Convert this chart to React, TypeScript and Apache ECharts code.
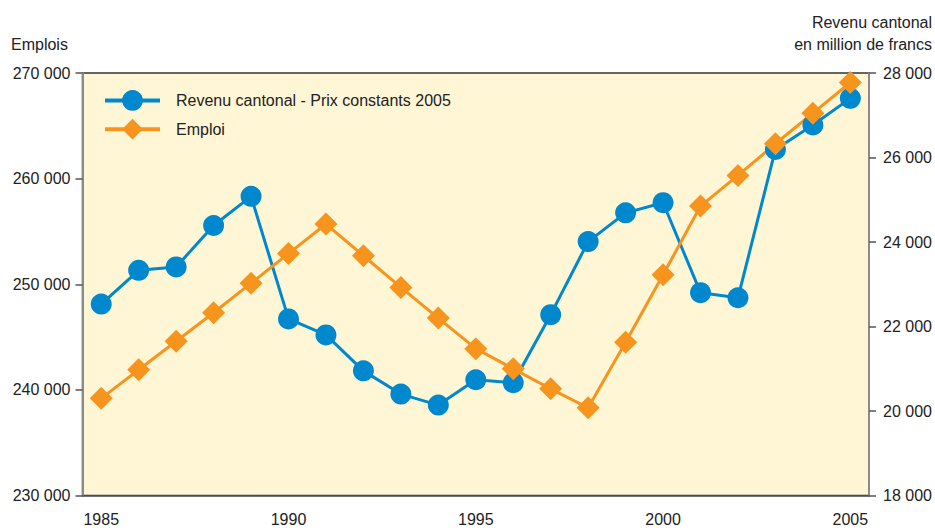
import React, { useEffect, useRef } from "react";
import * as echarts from "echarts";

const years = [
  "1985", "1986", "1987", "1988", "1989", "1990", "1991", "1992", "1993", "1994", "1995",
  "1996", "1997", "1998", "1999", "2000", "2001", "2002", "2003", "2004", "2005",
];

const revenu = [
  22530, 23330, 23410, 24390, 25080, 22180, 21800, 20950, 20400, 20140, 20740,
  20670, 22280, 24010, 24690, 24930, 22800, 22680, 26190, 26770, 27400,
];

const emploi = [
  239200, 241900, 244600, 247300, 250100, 252900, 255700, 252700, 249700, 246800, 243900,
  242000, 240100, 238300, 244500, 250900, 257400, 260300, 263300, 266200, 269100,
];

const seriesNames = ["Revenu cantonal - Prix constants 2005", "Emploi"];
const leftAxisName = "Emplois";
const rightAxisName = ["Revenu cantonal", "en million de francs"];

const FONT = "'Liberation Sans', Arial, sans-serif";
const fmt = (v: number) => String(v).replace(/\B(?=(\d{3})+(?!\d))/g, " ");

export default function App() {
  const ref = useRef<HTMLDivElement>(null);
  useEffect(() => {
    if (!ref.current) return;
    const chart = echarts.init(ref.current, undefined, { renderer: "svg" });
    chart.setOption({
      animation: false,
      backgroundColor: "#ffffff",
      textStyle: { fontFamily: FONT },
      grid: {
        left: 82.5,
        right: 65,
        top: 73,
        bottom: 34.5,
        show: true,
        backgroundColor: "#FFF6D6",
        borderColor: "#333333",
        borderWidth: 1.5,
      },
      legend: {
        orient: "vertical",
        left: 98,
        top: 85,
        padding: 5,
        itemWidth: 55,
        itemHeight: 26,
        itemGap: 8,
        lineStyle: { width: 4 },
        textStyle: { fontFamily: FONT, fontSize: 16, color: "#222", padding: [0, 0, 0, 11] },
        data: seriesNames,
      },
      graphic: [
        {
          type: "text",
          left: 11,
          top: 36,
          style: { text: leftAxisName, font: `16px ${FONT}`, fill: "#222" },
        },
        {
          type: "text",
          right: 3,
          top: 14,
          style: { text: rightAxisName[0], font: `16px ${FONT}`, fill: "#222" },
        },
        {
          type: "text",
          right: 3,
          top: 36,
          style: { text: rightAxisName[1], font: `16px ${FONT}`, fill: "#222" },
        },
      ],
      xAxis: {
        type: "category",
        data: years,
        boundaryGap: true,
        axisLine: { lineStyle: { color: "#555", width: 1.5 } },
        axisTick: {
          alignWithLabel: true,
          interval: 0,
          length: 8,
          lineStyle: { color: "#555", width: 1.5 },
        },
        axisLabel: {
          interval: 4,
          margin: 16,
          fontSize: 16,
          color: "#222",
          fontFamily: FONT,
        },
        splitLine: { show: false },
      },
      yAxis: [
        {
          type: "value",
          min: 230000,
          max: 270000,
          interval: 10000,
          position: "left",
          axisLine: { show: true, lineStyle: { color: "#8a8a8a", width: 2 } },
          axisTick: { show: true, length: 7, lineStyle: { color: "#555", width: 1.5 } },
          axisLabel: { formatter: fmt, margin: 12, fontSize: 16, color: "#222", fontFamily: FONT },
          splitLine: { show: false },
        },
        {
          type: "value",
          min: 18000,
          max: 28000,
          interval: 2000,
          position: "right",
          axisLine: { show: true, lineStyle: { color: "#8a8a8a", width: 2 } },
          axisTick: { show: true, length: 7, lineStyle: { color: "#555", width: 1.5 } },
          axisLabel: { formatter: fmt, margin: 14, fontSize: 16, color: "#222", fontFamily: FONT },
          splitLine: { show: false },
        },
      ],
      series: [
        {
          name: seriesNames[0],
          type: "line",
          yAxisIndex: 1,
          data: revenu,
          symbol: "circle",
          symbolSize: 21,
          lineStyle: { color: "#0088CE", width: 3 },
          itemStyle: { color: "#0088CE" },
        },
        {
          name: seriesNames[1],
          type: "line",
          yAxisIndex: 0,
          data: emploi,
          symbol: "diamond",
          symbolSize: [23, 23],
          lineStyle: { color: "#F7941E", width: 3 },
          itemStyle: { color: "#F7941E" },
        },
      ],
    });
    return () => chart.dispose();
  }, []);
  return (
    <div
      ref={ref}
      style={{ position: "absolute", left: 0, top: 0, width: 935, height: 530 }}
    />
  );
}
